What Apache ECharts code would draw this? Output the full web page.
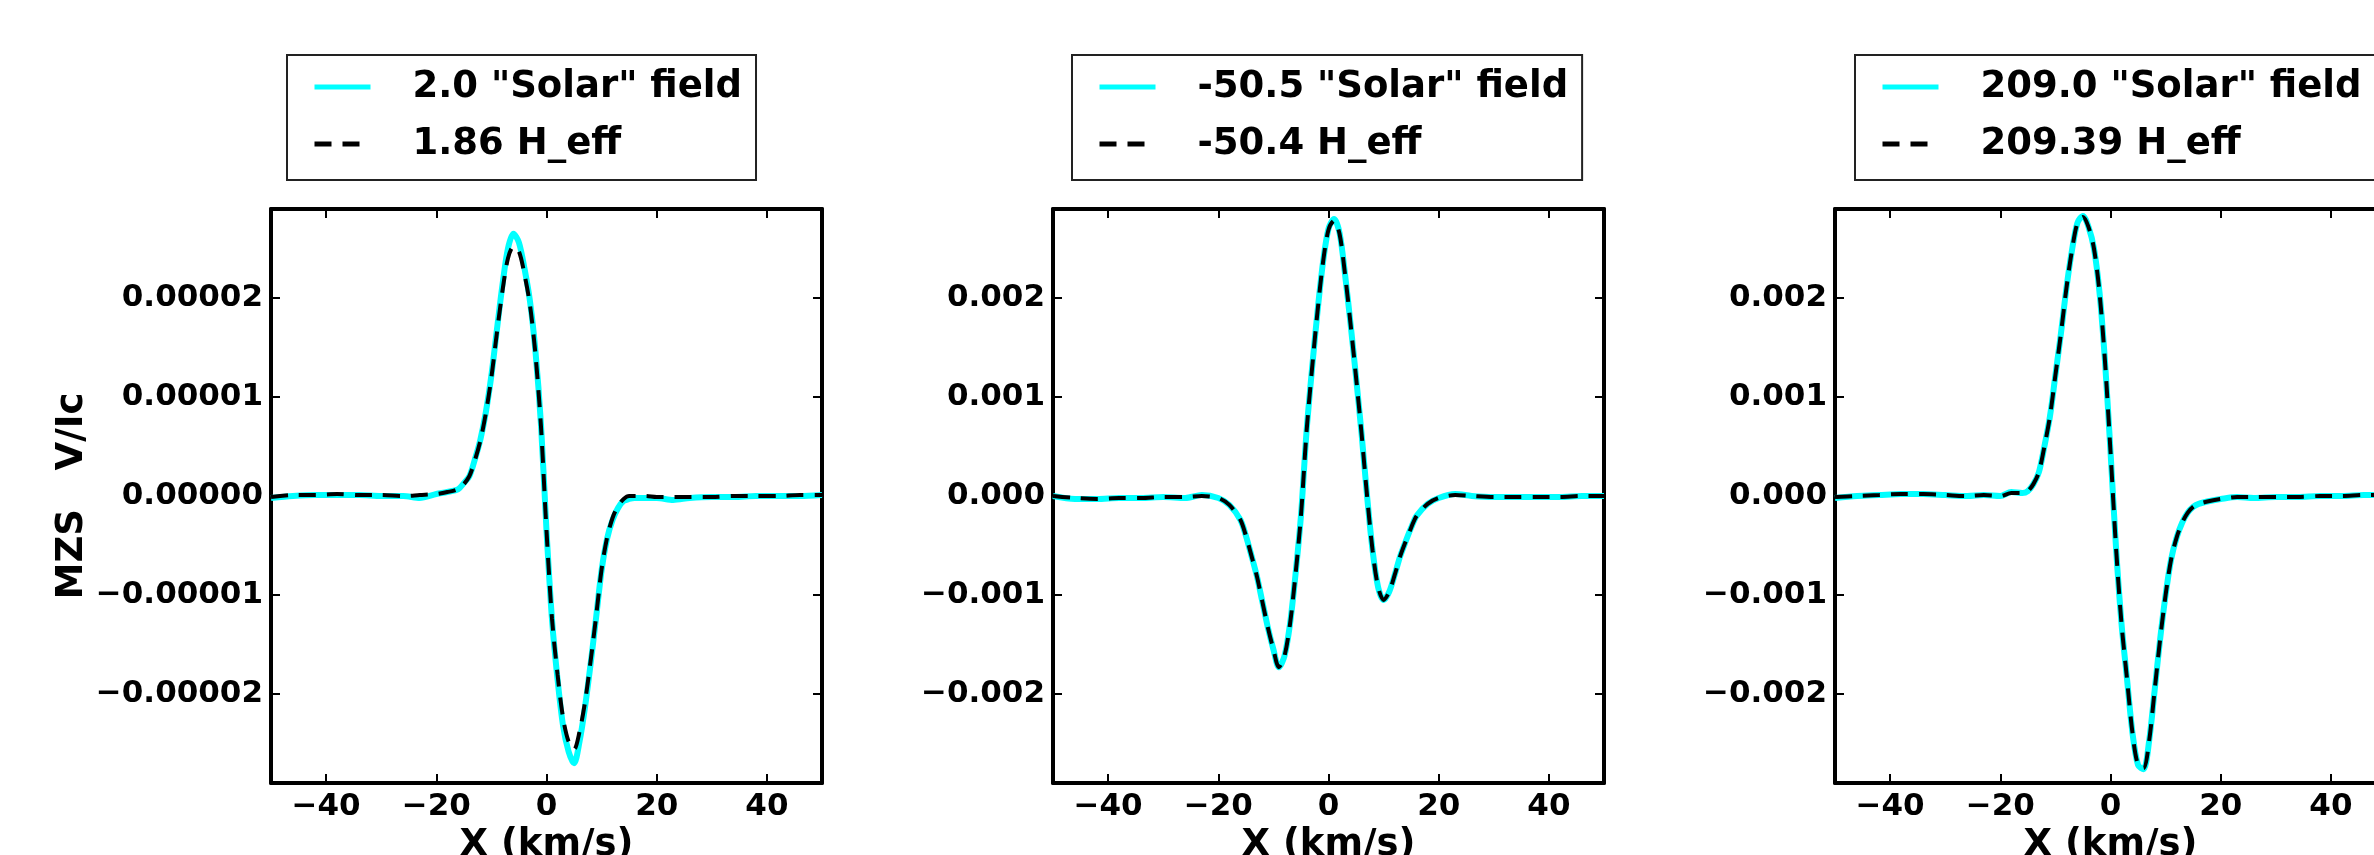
<!DOCTYPE html>
<html>
<head>
<meta charset="utf-8">
<script src="https://cdn.jsdelivr.net/npm/echarts@6/dist/echarts.min.js"></script>
<style>
html, body { margin: 0; padding: 0; background: #fff; }
#chart { width: 2374px; height: 855px; }
</style>
</head>
<body>
<div id="chart"></div>
<script>
// velocity grid (km/s), shared by every curve
const xs = [-50, -46, -42, -38, -34, -30, -26, -23, -20, -18, -16,
  -15, -14, -13, -12, -11, -10, -9, -8, -7, -6, -5, -4, -3, -2, -1,
  0, 1, 2, 3, 4, 5, 6, 7, 8, 9, 10, 11, 12, 13, 14, 15, 16,
  18, 20, 23, 26, 30, 34, 38, 42, 46, 50]

// panel 1, V/Ic in units of 1e-5
const solar1 = [-0.02, 0.00, 0.01, 0.01, 0.01, 0.00, 0.00, -0.02, 0.02, 0.04, 0.07,
  0.13, 0.20, 0.37, 0.57, 0.85, 1.22, 1.68, 2.13, 2.50, 2.65, 2.56, 2.30, 1.97, 1.46, 0.72,
  -0.35, -1.25, -1.85, -2.32, -2.58, -2.70, -2.48, -2.13, -1.70, -1.23, -0.75, -0.43, -0.24, -0.12, -0.05, -0.03, -0.02,
  -0.02, -0.02, -0.04, -0.02, -0.01, -0.01, 0.00, 0.00, 0.00, 0.01]
const heff1 = [-0.01, 0.01, 0.01, 0.02, 0.01, 0.01, 0.00, 0.01, 0.02, 0.04, 0.07,
  0.12, 0.20, 0.36, 0.56, 0.84, 1.20, 1.65, 2.07, 2.40, 2.52, 2.47, 2.24, 1.93, 1.43, 0.70,
  -0.35, -1.24, -1.80, -2.24, -2.48, -2.56, -2.38, -2.08, -1.67, -1.22, -0.74, -0.42, -0.22, -0.10, -0.03, 0.00, 0.00,
  0.00, -0.01, -0.01, -0.01, -0.01, 0.00, 0.00, 0.00, 0.01, 0.01]

// panel 2, units of 1e-3
const solar2 = [0.00, -0.03, -0.03, -0.02, -0.02, -0.01, -0.02, 0.01, -0.02, -0.09, -0.24,
  -0.40, -0.60, -0.81, -1.07, -1.33, -1.55, -1.73, -1.62, -1.30, -0.80, -0.20, 0.64, 1.28, 1.86, 2.36,
  2.70, 2.80, 2.66, 2.24, 1.74, 1.20, 0.63, 0.00, -0.55, -0.92, -1.05, -0.97, -0.80, -0.61, -0.46, -0.32, -0.20,
  -0.08, -0.02, 0.02, 0.00, -0.01, -0.01, -0.01, -0.01, 0.00, 0.00]
const heff2 = [0.00, -0.02, -0.03, -0.02, -0.02, -0.01, -0.01, 0.00, -0.02, -0.09, -0.24,
  -0.40, -0.60, -0.81, -1.07, -1.33, -1.55, -1.73, -1.62, -1.30, -0.80, -0.20, 0.64, 1.28, 1.86, 2.36,
  2.69, 2.78, 2.65, 2.24, 1.74, 1.20, 0.63, 0.00, -0.55, -0.92, -1.05, -0.97, -0.80, -0.61, -0.46, -0.32, -0.20,
  -0.08, -0.02, 0.01, 0.00, -0.01, -0.01, -0.01, -0.01, 0.00, 0.00]

// panel 3, units of 1e-3
const solar3 = [-0.02, 0.00, 0.01, 0.02, 0.02, 0.01, 0.00, 0.01, 0.00, 0.04, 0.03,
  0.05, 0.12, 0.24, 0.50, 0.80, 1.22, 1.64, 2.10, 2.48, 2.76, 2.83, 2.72, 2.50, 2.06, 1.36,
  0.45, -0.52, -1.29, -1.85, -2.40, -2.72, -2.76, -2.48, -1.97, -1.45, -1.00, -0.64, -0.42, -0.27, -0.17, -0.11, -0.08,
  -0.05, -0.03, -0.01, -0.02, -0.01, -0.01, 0.00, 0.00, 0.01, 0.01]
const heff3 = [-0.01, 0.00, 0.01, 0.02, 0.02, 0.01, 0.00, 0.01, 0.00, 0.03, 0.03,
  0.05, 0.12, 0.24, 0.50, 0.80, 1.22, 1.64, 2.10, 2.48, 2.76, 2.82, 2.72, 2.50, 2.06, 1.36,
  0.45, -0.52, -1.29, -1.85, -2.40, -2.72, -2.75, -2.48, -1.97, -1.45, -1.00, -0.64, -0.42, -0.27, -0.17, -0.11, -0.08,
  -0.05, -0.03, -0.01, -0.01, -0.01, -0.01, 0.00, 0.00, 0.01, 0.01]

const solarNames = ['2.0 "Solar" field', '-50.5 "Solar" field', '209.0 "Solar" field']
const heffNames = ['1.86 H_eff', '-50.4 H_eff', '209.39 H_eff']

const xTicks = [-40, -20, 0, 20, 40]
const xLabels = ['\u221240', '\u221220', '0', '20', '40']
const yTicks = [-2, -1, 0, 1, 2]
const yLabels1 = ['\u22120.00002', '\u22120.00001', '0.00000', '0.00001', '0.00002']
const yLabels23 = ['\u22120.002', '\u22120.001', '0.000', '0.001', '0.002']

const solarData = [solar1, solar2, solar3]
const heffData = [heff1, heff2, heff3]
const yLabelSets = [yLabels1, yLabels23, yLabels23]

// layout (px)
const LEFT0 = 271, STEP = 782, TOP = 209, W = 551, H = 574
const legendLeft = [287, 1072, 1855]
const FONT = 'DejaVu Sans'

const chart = echarts.init(document.getElementById('chart'), null, { renderer: 'canvas' })

const frame = { show: true, onZero: false, lineStyle: { color: '#000', width: 4 } }
const ticks = (vals) => ({ show: true, inside: true, length: 9, customValues: vals, lineStyle: { color: '#000', width: 2 } })
const labelFont = { fontFamily: FONT, fontWeight: 'bold', fontSize: 31, color: '#000' }
const nameFont = { fontFamily: FONT, fontWeight: 'bold', fontSize: 37, color: '#000' }
const pick = (vals, labels) => (v) => {
  const i = vals.findIndex(t => Math.abs(t - v) < 1e-9)
  return i < 0 ? '' : labels[i]
}

const grid = [], xAxis = [], yAxis = [], series = [], legend = []

for (let p = 0; p < 3; p++) {
  // fixed pixel box, no auto-shrinking to keep labels inside the canvas
  grid.push({ left: LEFT0 + STEP * p, top: TOP, width: W, height: H, containLabel: false, outerBoundsMode: 'none' })

  xAxis.push({
    type: 'value', gridIndex: p, position: 'bottom', min: -50, max: 50,
    axisLine: frame, axisTick: ticks(xTicks), splitLine: { show: false },
    axisLabel: { ...labelFont, margin: 8, customValues: xTicks, formatter: pick(xTicks, xLabels) },
    name: 'X (km/s)', nameLocation: 'middle', nameGap: 39, nameTextStyle: nameFont
  })
  xAxis.push({
    type: 'value', gridIndex: p, position: 'top', min: -50, max: 50,
    axisLine: frame, axisTick: ticks(xTicks), splitLine: { show: false }, axisLabel: { show: false }
  })

  yAxis.push({
    type: 'value', gridIndex: p, position: 'left', min: -2.9, max: 2.9,
    axisLine: frame, axisTick: ticks(yTicks), splitLine: { show: false },
    axisLabel: { ...labelFont, margin: 8, customValues: yTicks, formatter: pick(yTicks, yLabelSets[p]) },
    name: p === 0 ? 'MZS   V/Ic' : '', nameLocation: 'middle', nameRotate: 90, nameGap: 180,
    nameTextStyle: nameFont
  })
  yAxis.push({
    type: 'value', gridIndex: p, position: 'right', min: -2.9, max: 2.9,
    axisLine: frame, axisTick: ticks(yTicks), splitLine: { show: false }, axisLabel: { show: false }
  })

  series.push({
    name: solarNames[p], type: 'line', xAxisIndex: 2 * p, yAxisIndex: 2 * p,
    data: solarData[p].map((y, i) => [xs[i], y]),
    smooth: 0.3, symbol: 'none', color: '#00ffff',
    lineStyle: { color: '#00ffff', width: 6 }, z: 2
  })
  series.push({
    name: heffNames[p], type: 'line', xAxisIndex: 2 * p, yAxisIndex: 2 * p,
    data: heffData[p].map((y, i) => [xs[i], y]),
    smooth: 0.3, symbol: 'none', color: '#000',
    lineStyle: { color: '#000', width: 4, type: [17, 11] }, z: 3
  })

  legend.push({
    data: [solarNames[p], heffNames[p]],
    orient: 'vertical', left: legendLeft[p], top: 55,
    padding: [12, 14, 16, 25], itemGap: 17,
    itemWidth: 56, itemHeight: 14,
    borderColor: '#222', borderWidth: 2, borderRadius: 0,
    selectedMode: false,
    itemStyle: { opacity: 0 },
    lineStyle: { width: 5 },
    textStyle: { ...nameFont, lineHeight: 40, padding: [0, 0, 0, 37] }
  })
}

chart.setOption({
  animation: false,
  backgroundColor: '#fff',
  grid, xAxis, yAxis, series, legend
})

window.addEventListener('resize', () => chart.resize())
</script>
</body>
</html>
